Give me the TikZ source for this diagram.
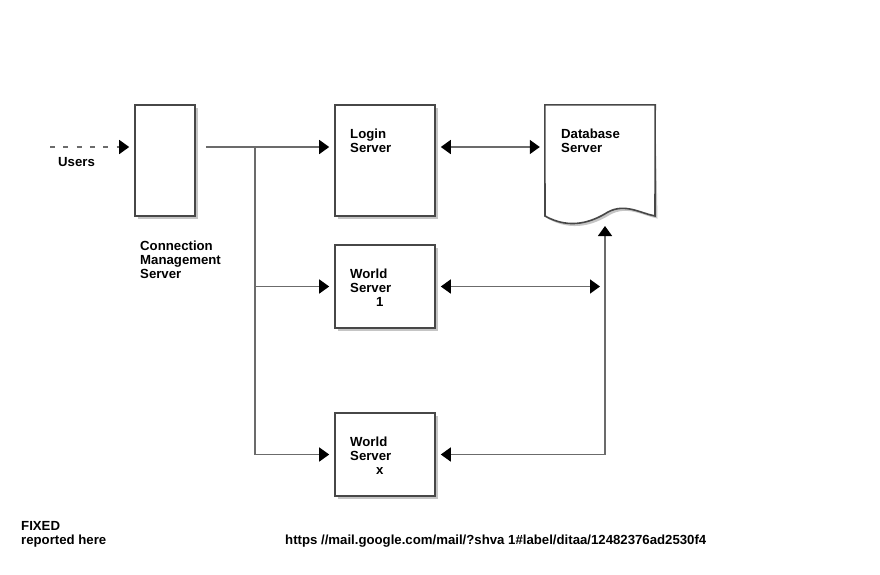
\documentclass[tikz,border=0pt]{standalone}
\usepackage{fontspec}
\setmainfont{Liberation Sans}
\usetikzlibrary{arrows.meta,shadows}

\begin{document}
\begin{tikzpicture}[x=1pt,y=-1pt,
    box/.style={draw=black!72, line width=1.6pt, fill=white, inner sep=0pt,
      drop shadow={shadow xshift=2.5pt, shadow yshift=-2.5pt, fill=black!45, opacity=0.5}},
    txt/.style={font=\fontsize{13.2}{14}\selectfont\bfseries, inner sep=0pt, anchor=base west, align=left},
    conn/.style={draw=black!58, line width=1.5pt},
    tip/.style={-{Triangle[length=10pt,width=14pt,black]}, shorten >=5pt},
    tips/.style={{Triangle[length=10pt,width=14pt,black]}-{Triangle[length=10pt,width=14pt,black]}, shorten >=5pt, shorten <=5pt}]
    \useasboundingbox (0,0) rectangle (880,574);
    % boxes
    \node [box, minimum width=60pt, minimum height=111pt] (cms) at (165,160.5) {};
    \node [box, minimum width=100pt, minimum height=111pt] (login) at (385,160.5) {};
    \node [box, minimum width=100pt, minimum height=83pt] (ws1) at (385,286.5) {};
    \node [box, minimum width=100pt, minimum height=83pt] (wsx) at (385,454.5) {};
    \node [minimum width=110pt, minimum height=111pt, inner sep=0pt] (db) at (600,160.5) {};
    \path [fill=black!45, opacity=0.5, xshift=2.5pt, yshift=-2.5pt] (db.north west) -- (db.north east) -- (655,216)
      .. controls (640,213) and (625,203) .. (608,212) .. controls (592,222) and (570,230) .. (545,216) -- cycle;
    \draw [draw=black!72, line width=1.6pt, fill=white] (db.north west) -- (db.north east) -- (655,216)
      .. controls (640,213) and (625,203) .. (608,212) .. controls (592,222) and (570,230) .. (545,216) -- cycle;
    % texts (placed by the baseline of the last line)
    \node [txt] (userstxt) at (58,166) {Users};
    \node [txt] (cmstxt) at (140,278) {Connection\\Management\\Server};
    \node [txt] (logintxt) at (350,152) {Login\\Server};
    \node [txt] (dbtxt) at (561,152) {Database\\Server};
    \node [txt] (ws1txt) at (350,306) {World\\Server\\\hspace*{26pt}1};
    \node [txt] (wsxtxt) at (350,474) {World\\Server\\\hspace*{26pt}x};
    \node [txt] (fixed) at (21,544) {FIXED\\reported here};
    \node [txt] (url) at (285,544) {https //mail.google.com/mail/?shva 1\#label/ditaa/12482376ad2530f4};
    % connectors
    \coordinate (users) at (50,147);
    \coordinate (split) at (255,147);
    \coordinate (dbin) at (605,226);
    \draw [conn, dash pattern=on 5pt off 8.3pt, tip] (users) -- (users -| cms.west);
    \draw [conn] ([xshift=10pt]cms.east |- users) -- (split);
    \draw [conn, tip] (split) -- (split -| login.west);
    \draw [conn] (split) -- (split |- wsx.west);
    \draw [conn, tip] (split |- ws1.west) -- (ws1.west);
    \draw [conn, tip] (split |- wsx.west) -- (wsx.west);
    \draw [conn, tips] (login.east |- users) -- (db.west |- users);
    \draw [conn, tips, shorten >=0pt] (ws1.east) -- ([xshift=-5pt]ws1.east -| dbin);
    \draw [conn, tips, shorten >=0pt] (wsx.east) -| (dbin);
\end{tikzpicture}
\end{document}
